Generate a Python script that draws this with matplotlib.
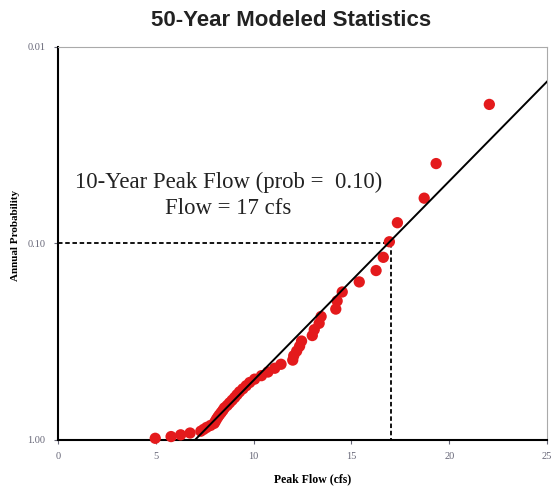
import matplotlib
matplotlib.use("Agg")
from matplotlib import pyplot as plt

# peak flows (cfs), ranked largest to smallest
flow = [22.05, 19.33, 18.72, 17.35, 16.94, 16.63, 16.26, 15.40, 14.53, 14.27,
        14.20, 13.45, 13.35, 13.10, 13.00, 12.45, 12.35, 12.20, 12.05, 12.00,
        11.40, 11.08, 10.73, 10.40, 10.05, 9.80, 9.62, 9.45, 9.28, 9.15,
        9.03, 8.90, 8.77, 8.65, 8.51, 8.43, 8.34, 8.25, 8.17, 8.10,
        8.04, 7.98, 7.80, 7.60, 7.45, 7.30, 6.75, 6.27, 5.78, 4.97]

# annual exceedance probability of each ranked flow
prob = [0.0196, 0.0392, 0.0588, 0.0784, 0.0980, 0.1176, 0.1373, 0.1569, 0.1765, 0.1961,
        0.2157, 0.2353, 0.2549, 0.2745, 0.2941, 0.3137, 0.3333, 0.3529, 0.3725, 0.3922,
        0.4118, 0.4314, 0.4510, 0.4706, 0.4902, 0.5098, 0.5294, 0.5490, 0.5686, 0.5882,
        0.6078, 0.6275, 0.6471, 0.6667, 0.6863, 0.7059, 0.7255, 0.7451, 0.7647, 0.7843,
        0.8039, 0.8235, 0.8431, 0.8627, 0.8824, 0.9020, 0.9216, 0.9412, 0.9608, 0.9804]

# fitted line
fit_x = [7.0, 25.0]
fit_p = [1.0, 0.0150]

q10_flow = 17
q10_prob = 0.10

yticks = [0.01, 0.10, 1.00]
ytick_labels = ['0.01', '0.10', '1.00']
xticks = [0, 5, 10, 15, 20, 25]

fig = plt.figure(figsize=(5.51, 4.91), dpi=100)
ax = fig.add_axes([0.1053, 0.1039, 0.8875, 0.8004])

ax.scatter(flow, prob, s=66, color='#e41a1c', edgecolor='none', zorder=3, clip_on=False)
ax.plot(fit_x, fit_p, color='k', lw=1.4, zorder=4)

# 10-year guide lines
ax.plot([0, q10_flow], [q10_prob, q10_prob], color='k', lw=1.3, ls=(0, (2.5, 1.5)), zorder=2)
ax.plot([q10_flow, q10_flow], [q10_prob, 1.0], color='k', lw=1.3, ls=(0, (2.5, 1.5)), zorder=2)

ax.set_yscale('log')
ax.set_ylim(1.0, 0.01)
ax.set_xlim(0, 25)
ax.set_yticks(yticks)
ax.set_yticklabels(ytick_labels)
ax.minorticks_off()
ax.set_xticks(xticks)

for lbl in ax.get_xticklabels() + ax.get_yticklabels():
    lbl.set_fontfamily('Liberation Serif')
    lbl.set_fontsize(7.5)
    lbl.set_color('#666677')
ax.tick_params(axis='both', direction='out', length=3, width=0.8, colors='#666677', pad=6)

ax.spines['left'].set_linewidth(1.5)
ax.spines['bottom'].set_linewidth(1.5)
ax.spines['top'].set_color('#aaaaaa')
ax.spines['right'].set_color('#aaaaaa')
ax.spines['top'].set_linewidth(0.8)
ax.spines['right'].set_linewidth(0.8)

ax.set_xlabel('Peak Flow (cfs)', family='Liberation Serif', fontweight='bold', fontsize=8.5, labelpad=8)
ax.xaxis.set_label_coords(0.52, -0.085)
ax.set_ylabel('Annual Probability', family='Liberation Serif', fontweight='bold', fontsize=8)
ax.yaxis.set_label_coords(-0.078, 0.52)

ax.text(8.7, 0.057, '10-Year Peak Flow (prob =  0.10)\nFlow = 17 cfs', family='Liberation Serif',
        fontsize=16.4, ha='center', va='center', linespacing=1.3, color='#222222')

fig.text(0.528, 0.958, '50-Year Modeled Statistics', ha='center', va='center',
         family='Liberation Sans', fontweight='bold', fontsize=16, color='#222222')

fig.savefig('out.png', dpi=100)
